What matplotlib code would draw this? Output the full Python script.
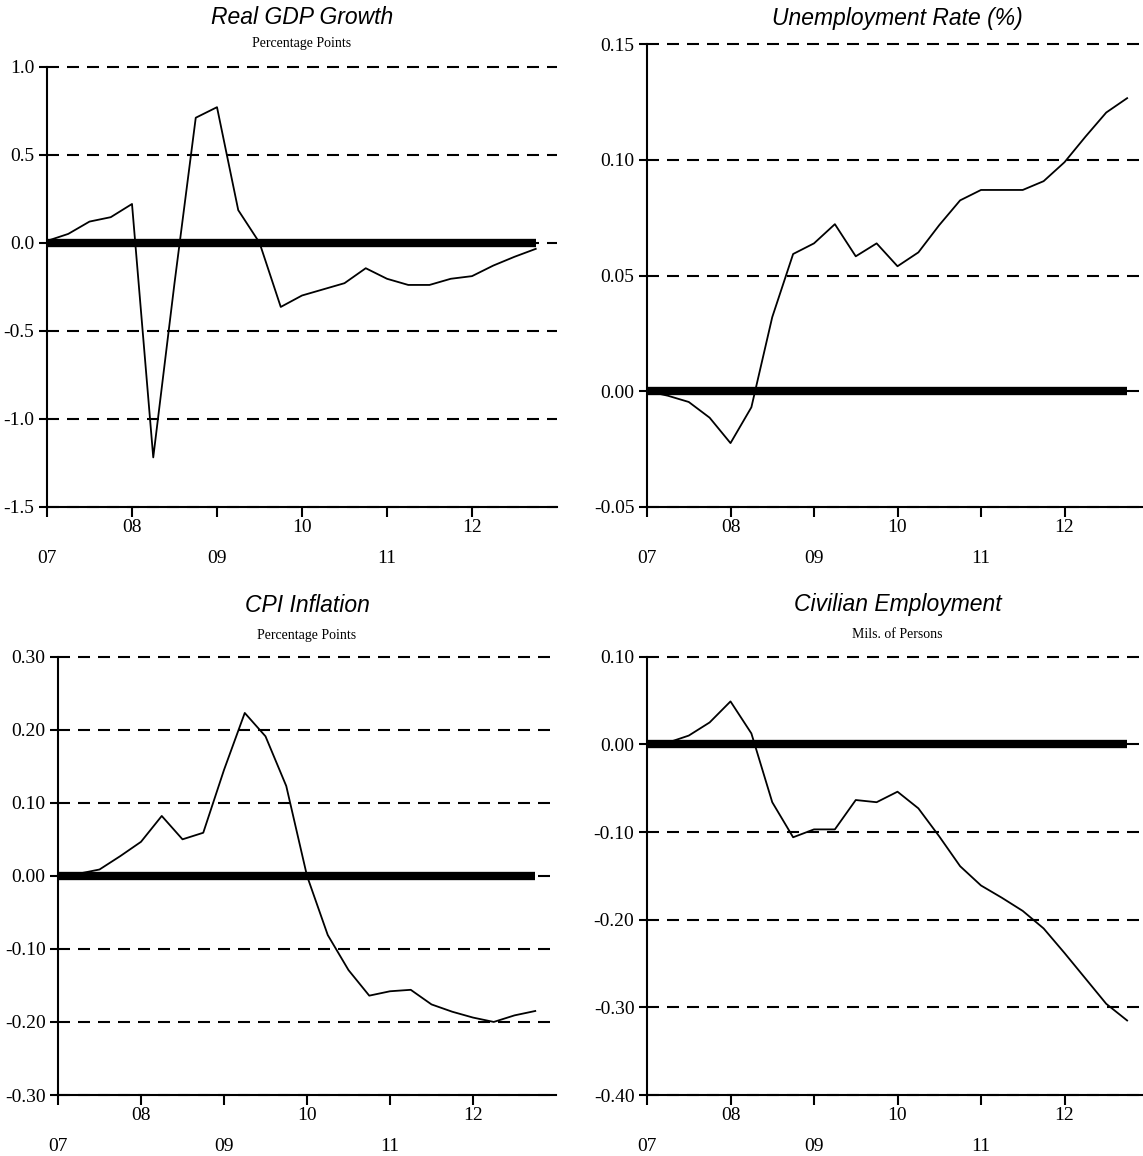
import numpy as np
import matplotlib
matplotlib.use("Agg")
import matplotlib.pyplot as plt

plt.rcParams['axes.unicode_minus'] = False
plt.rcParams['font.family'] = ['Liberation Serif', 'DejaVu Serif']

# ---------------- data ----------------
quarters = 2007 + np.arange(24) * 0.25
year_ticks = [2007, 2008, 2009, 2010, 2011, 2012]
year_labels = ['07', '08', '09', '10', '11', '12']

gdp = [0.01, 0.05, 0.12, 0.145, 0.22, -1.22, -0.23, 0.71, 0.77, 0.185, 0.0, -0.365,
       -0.30, -0.265, -0.23, -0.145, -0.205, -0.24, -0.24, -0.205, -0.19, -0.13, -0.08, -0.035]
unemp = [0.0, -0.002, -0.0047, -0.0115, -0.0225, -0.007, 0.032, 0.0593, 0.0639, 0.0722, 0.0583, 0.0639,
         0.054, 0.060, 0.0718, 0.0825, 0.087, 0.087, 0.087, 0.0908, 0.099, 0.110, 0.1205, 0.1267]
cpi = [0.0, 0.003, 0.0087, 0.027, 0.0466, 0.082, 0.050, 0.059, 0.145, 0.223, 0.191, 0.123,
       0.0, -0.081, -0.129, -0.164, -0.158, -0.156, -0.176, -0.186, -0.194, -0.200, -0.191, -0.185]
emp = [0.0, 0.002, 0.010, 0.025, 0.049, 0.0125, -0.066, -0.106, -0.097, -0.097, -0.0635, -0.066,
       -0.054, -0.073, -0.105, -0.139, -0.161, -0.175, -0.19, -0.21, -0.238, -0.267, -0.296, -0.315]

panels = [
    dict(title='Real GDP Growth', sub='Percentage Points', y=gdp,
         yticks=[-1.5, -1.0, -0.5, 0.0, 0.5, 1.0], fmt='%.1f'),
    dict(title='Unemployment Rate (%)', sub=None, y=unemp,
         yticks=[-0.05, 0.0, 0.05, 0.10, 0.15], fmt='%.2f'),
    dict(title='CPI Inflation', sub='Percentage Points', y=cpi,
         yticks=[-0.30, -0.20, -0.10, 0.0, 0.10, 0.20, 0.30], fmt='%.2f'),
    dict(title='Civilian Employment', sub='Mils. of Persons', y=emp,
         yticks=[-0.40, -0.30, -0.20, -0.10, 0.0, 0.10], fmt='%.2f'),
]

# ---------------- layout (pixels) ----------------
W, H = 1143, 1156
DPI = 100
fig = plt.figure(figsize=(W / DPI, H / DPI), dpi=DPI)
fig.patch.set_facecolor('white')

boxes = [  # left, right, top, bottom, title_y, sub_y
    (47, 557, 66.7, 506.7, 18, 43),
    (647, 1148, 44.3, 506.7, 18, None),
    (58, 556, 656.7, 1095, 605, 635),
    (647, 1148, 656.7, 1095, 605, 635),
]

dash_px = (12, 8)
lw_dash = 1.5
dash_style = (0, (dash_px[0] * 0.72 / lw_dash, dash_px[1] * 0.72 / lw_dash))

for p, (l, r, t, b, ty, sy) in zip(panels, boxes):
    ax = fig.add_axes([l / W, 1 - b / H, (r - l) / W, (b - t) / H])
    ax.set_xlim(2007, 2013)
    ax.set_ylim(p['yticks'][0], p['yticks'][-1])
    for s in ['top', 'right']:
        ax.spines[s].set_visible(False)
    for s in ['left', 'bottom']:
        ax.spines[s].set_linewidth(1.5)
        ax.spines[s].set_zorder(5)

    # dashed gridlines at each tick level
    for yv in p['yticks']:
        ax.axhline(yv, color='black', lw=lw_dash, linestyle=dash_style, zorder=1, clip_on=False)

    # thick zero bar
    ax.plot([quarters[0], quarters[-1]], [0, 0], color='black', lw=6.0,
            solid_capstyle='butt', zorder=2)
    # data line
    ax.plot(quarters, p['y'], color='black', lw=1.3, zorder=3)

    ax.set_yticks(p['yticks'])
    ax.set_yticklabels([p['fmt'] % v for v in p['yticks']])
    ax.tick_params(axis='y', direction='out', length=6, width=1.5, pad=3, labelsize=14)

    major = [year_ticks[i] for i in range(len(year_ticks)) if i % 2 == 1]
    major_lab = [year_labels[i] for i in range(len(year_ticks)) if i % 2 == 1]
    minor = [year_ticks[i] for i in range(len(year_ticks)) if i % 2 == 0]
    minor_lab = [year_labels[i] for i in range(len(year_ticks)) if i % 2 == 0]
    ax.set_xticks(major, major_lab)
    ax.set_xticks(minor, minor_lab, minor=True)
    ax.tick_params(axis='x', which='both', direction='out', length=7, width=1.5, labelsize=14)
    ax.tick_params(axis='x', which='major', pad=2)
    ax.tick_params(axis='x', which='minor', pad=24)

    cx = (l + min(r, 1148)) / 2 / W
    fig.text(cx, 1 - ty / H, p['title'], ha='center', va='center', fontsize=16.5,
             style='italic', family=['Liberation Sans', 'DejaVu Sans'])
    if p['sub'] and sy is not None:
        fig.text(cx, 1 - sy / H, p['sub'], ha='center', va='center', fontsize=10)

fig.savefig('out.png', dpi=DPI, facecolor='white')
